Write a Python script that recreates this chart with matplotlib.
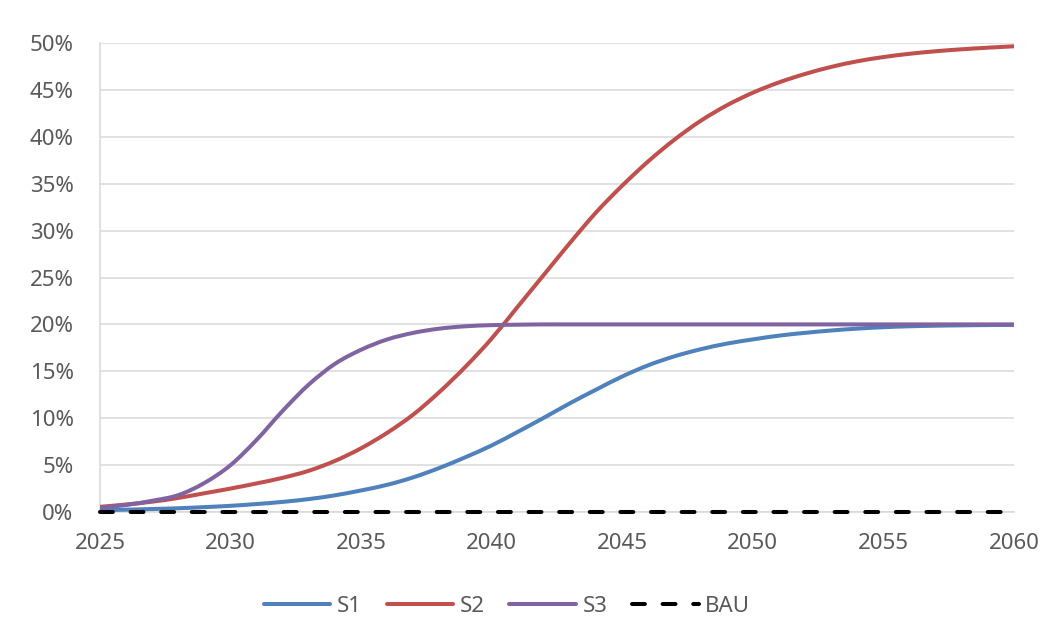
import matplotlib.pyplot as plt
from matplotlib.lines import Line2D
from matplotlib.patches import PathPatch
from matplotlib.path import Path
from matplotlib.ticker import FuncFormatter, MultipleLocator

# yearly values (percent)
years = list(range(2025, 2061))
s1 = [0.2, 0.25, 0.32, 0.4, 0.52, 0.66, 0.85, 1.08, 1.38, 1.78,
      2.3, 2.9, 3.7, 4.7, 5.85, 7.1, 8.55, 10.05, 11.6, 13.05,
      14.45, 15.65, 16.6, 17.35, 17.95, 18.4, 18.8, 19.1, 19.35, 19.55,
      19.7, 19.8, 19.86, 19.9, 19.93, 19.95]
s2 = [0.55, 0.8, 1.1, 1.5, 2.0, 2.5, 3.05, 3.65, 4.4, 5.45,
      6.8, 8.45, 10.4, 12.8, 15.5, 18.5, 21.9, 25.3, 28.7, 31.95,
      34.8, 37.4, 39.7, 41.7, 43.35, 44.7, 45.8, 46.7, 47.45, 48.05,
      48.5, 48.85, 49.12, 49.33, 49.5, 49.65]
s3 = [0.45, 0.75, 1.2, 1.8, 3.1, 5.0, 7.7, 10.8, 13.6, 15.8,
      17.3, 18.4, 19.1, 19.55, 19.8, 19.92, 19.97, 20.0, 20.0, 20.0,
      20.0, 20.0, 20.0, 20.0, 20.0, 20.0, 20.0, 20.0, 20.0, 20.0,
      20.0, 20.0, 20.0, 20.0, 20.0, 20.0]
bau = [0.0] * len(years)

text_col = "#595959"
grid_col = "#d9d9d9"
plt.rcParams['font.family'] = ['Noto Sans', 'DejaVu Sans']


def smooth_path(x, y):
    # bezier path through the points, like a spreadsheet "smoothed line"
    n = len(x)
    verts = [(x[0], y[0])]
    codes = [Path.MOVETO]
    for i in range(n - 1):
        i0, i2 = max(i - 1, 0), min(i + 2, n - 1)
        c1 = (x[i] + (x[i + 1] - x[i0]) / 6, y[i] + (y[i + 1] - y[i0]) / 6)
        c2 = (x[i + 1] - (x[i2] - x[i]) / 6, y[i + 1] - (y[i2] - y[i]) / 6)
        verts += [c1, c2, (x[i + 1], y[i + 1])]
        codes += [Path.CURVE4] * 3
    return Path(verts, codes)


fig = plt.figure(figsize=(10.55, 6.41), dpi=100)
ax = fig.add_axes([100 / 1055, 1 - 512 / 641, 914 / 1055, 469 / 641])

lw = 2.9
handles = []
for vals, col in [(s1, "#4f81bd"), (s2, "#c0504d"), (s3, "#8064a2")]:
    ax.add_patch(PathPatch(smooth_path(years, vals), fill=False, edgecolor=col,
                           lw=lw, capstyle="round", joinstyle="round", zorder=3))
    handles.append(Line2D([], [], color=col, lw=lw, solid_capstyle="round"))
bau_line, = ax.plot(years, bau, color="black", lw=lw, ls=(0, (3.2, 4.4)),
                    dash_capstyle="round", clip_on=False, zorder=4)
handles.append(bau_line)

ax.set_xlim(2025, 2060)
ax.set_ylim(0, 50)
ax.xaxis.set_major_locator(MultipleLocator(5))
ax.yaxis.set_major_locator(MultipleLocator(5))
ax.yaxis.set_major_formatter(FuncFormatter(lambda v, p: f"{v:.0f}%"))

ax.grid(axis="y", color=grid_col, lw=1.1)
ax.set_axisbelow(True)
for side in ["top", "right"]:
    ax.spines[side].set_visible(False)
for side in ["left", "bottom"]:
    ax.spines[side].set_color(grid_col)
    ax.spines[side].set_linewidth(1.1)
    ax.spines[side].set_zorder(1)

ax.tick_params(axis="y", length=0, pad=19, labelsize=16, labelcolor=text_col)
ax.tick_params(axis="x", length=0, pad=15, labelsize=16, labelcolor=text_col)

fig.legend(handles, ["S1", "S2", "S3", "BAU"], loc="center",
           bbox_to_anchor=(507 / 1055, 1 - 606 / 641), ncol=4,
           frameon=False, fontsize=16, labelcolor=text_col,
           handlelength=3.0, handletextpad=0.3, columnspacing=1.1)

fig.savefig("out.png", dpi=100)
